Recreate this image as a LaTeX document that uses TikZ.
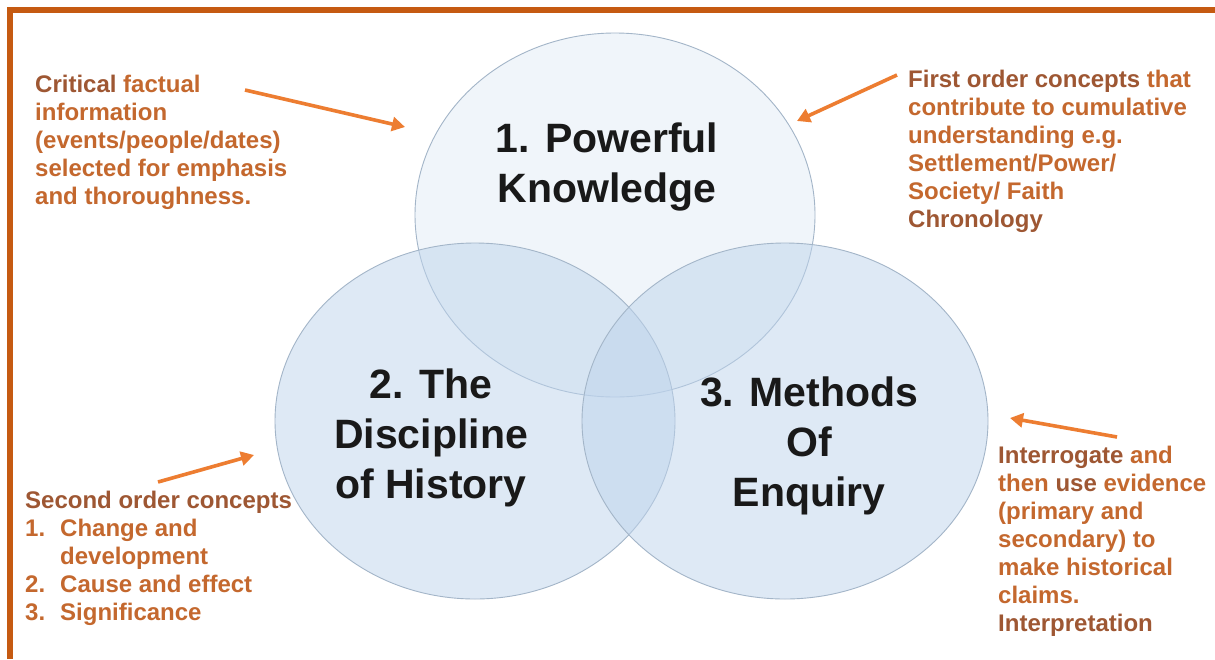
\documentclass[tikz,border=0pt]{standalone}
\usepackage{fontspec}
\setmainfont{Liberation Sans}
\usetikzlibrary{arrows.meta,shapes.geometric}
\definecolor{framec}{HTML}{C55A11}
\definecolor{arr}{HTML}{ED7D31}
\definecolor{ann}{HTML}{C4682E}
\definecolor{annd}{HTML}{9E5733}
\definecolor{circfill}{RGB}{190,212,236}
\definecolor{circline}{HTML}{A3B5C8}
\begin{document}
\begin{tikzpicture}[x=1pt,y=-1pt,
  venn/.style={ellipse, draw=circline, line width=0.9pt, fill=circfill, inner sep=0pt},
  title/.style={font=\bfseries\fontsize{41}{50}\selectfont, align=center, text=black!90, inner sep=0pt, anchor=north},
  note/.style={font=\bfseries\fontsize{24}{28}\selectfont, align=left, text=ann, inner sep=0pt, anchor=north west},
  pointer/.style={draw=arr, line width=3.6pt, -{Triangle[length=13pt,width=14pt]}},
]
\useasboundingbox (0,0) rectangle (1215,659);
\fill[white] (0,0) rectangle (1215,659);
\draw[framec, line width=6pt, line join=miter] (9.5,659) -- (9.5,10) -- (1215,10);

\node[venn, fill opacity=0.22, minimum width=400pt, minimum height=364pt] (pk) at (615,215) {};
\node[venn, fill opacity=0.5, minimum width=400pt, minimum height=356pt] (dh) at (475,421) {};
\node[venn, fill opacity=0.5, minimum width=406pt, minimum height=356pt] (me) at (785,421) {};

\node[title] (pkt) at (607,121) {\rule{0pt}{31pt}1. Powerful\\Knowledge};
\node[title] (dht) at (431,367) {\rule{0pt}{31pt}2. The\\Discipline\\of History};
\node[title] (met) at (809,375) {\rule{0pt}{31pt}3. Methods\\Of\\Enquiry};

\node[note] (n1) at (35,72) {\rule{0pt}{20pt}{\color{annd}Critical} factual\\information\\(events/people/dates)\\selected for emphasis\\and thoroughness.};
\node[note] (n2) at (908,67) {\rule{0pt}{20pt}{\color{annd}First order concepts} that\\contribute to cumulative\\understanding e.g.\\Settlement/Power/\\Society/ Faith\\{\color{annd}Chronology}};
\node[note] (n3) at (25,488) {\rule{0pt}{20pt}{\color{annd}Second order concepts}\\\makebox[35pt][l]{1.}Change and\\\hspace*{35pt}development\\\makebox[35pt][l]{2.}Cause and effect\\\makebox[35pt][l]{3.}Significance};
\node[note] (n4) at (998,443) {\rule{0pt}{20pt}{\color{annd}Interrogate} and\\then {\color{annd}use} evidence\\(primary and\\secondary) to\\make historical\\claims.\\{\color{annd}Interpretation}};

\coordinate (a1s) at (245,90);   \coordinate (a1e) at (405,127);
\coordinate (a2s) at (897,75);   \coordinate (a2e) at (797,121);
\coordinate (a3s) at (158,482);  \coordinate (a3e) at (254,455);
\coordinate (a4s) at (1117,437); \coordinate (a4e) at (1010,418);
\draw[pointer] (a1s) -- (a1e);
\draw[pointer] (a2s) -- (a2e);
\draw[pointer] (a3s) -- (a3e);
\draw[pointer] (a4s) -- (a4e);
\end{tikzpicture}
\end{document}
